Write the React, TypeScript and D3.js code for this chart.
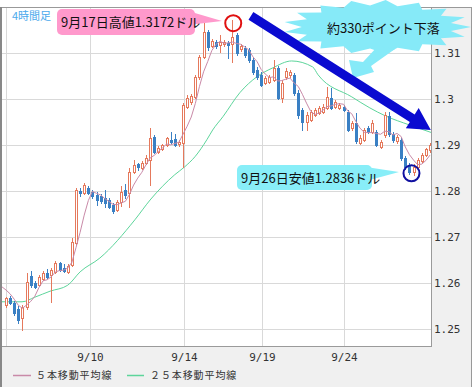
import React from 'react';
import * as d3 from 'd3';

// ---- data (GBP/USD 4-hour candles) ----
const opens = [1.2553,1.2568,1.2557,1.2544,1.2525,1.2549,1.2616,1.2601,1.2596,1.2610,1.2623,1.2618,1.2625,1.2644,1.2633,1.2625,1.2640,1.2688,1.2801,1.2796,1.2807,1.2799,1.2792,1.2790,1.2786,1.2781,1.2770,1.2760,1.2777,1.2803,1.2796,1.2842,1.2860,1.2851,1.2862,1.2868,1.2918,1.2886,1.2892,1.2901,1.2912,1.2914,1.2903,1.2905,1.2983,1.2994,1.3005,1.3049,1.3092,1.3146,1.3116,1.3125,1.3118,1.3120,1.3123,1.3120,1.3140,1.3110,1.3112,1.3107,1.3086,1.3064,1.3053,1.3036,1.3038,1.3042,1.3068,1.3003,1.3049,1.3053,1.3053,1.3014,1.2977,1.2951,1.2955,1.2966,1.2970,1.2973,1.2981,1.3003,1.2983,1.2981,1.2983,1.2973,1.2938,1.2949,1.2905,1.2912,1.2938,1.2929,1.2929,1.2896,1.2923,1.2964,1.2925,1.2910,1.2912,1.2873,1.2857,1.2842,1.2853,1.2866,1.2879,1.2890];
const highs = [1.2570,1.2573,1.2562,1.2551,1.2553,1.2623,1.2627,1.2605,1.2618,1.2627,1.2631,1.2633,1.2649,1.2646,1.2642,1.2642,1.2699,1.2807,1.2807,1.2818,1.2812,1.2803,1.2799,1.2794,1.2803,1.2786,1.2775,1.2781,1.2812,1.2816,1.2851,1.2868,1.2862,1.2866,1.2879,1.2938,1.2923,1.2899,1.2903,1.2918,1.2929,1.2925,1.2912,1.2992,1.3010,1.3012,1.3053,1.3096,1.3166,1.3151,1.3131,1.3129,1.3140,1.3129,1.3127,1.3172,1.3144,1.3120,1.3116,1.3112,1.3090,1.3070,1.3060,1.3051,1.3053,1.3086,1.3072,1.3042,1.3068,1.3064,1.3057,1.3020,1.2981,1.2973,1.2977,1.2981,1.2986,1.2990,1.3027,1.3025,1.2999,1.2992,1.2988,1.2977,1.2953,1.2970,1.2923,1.2938,1.2942,1.2955,1.2933,1.2912,1.2973,1.2973,1.2929,1.2923,1.2916,1.2877,1.2862,1.2860,1.2873,1.2883,1.2894,1.2905];
const lows = [1.2549,1.2555,1.2531,1.2514,1.2499,1.2544,1.2592,1.2590,1.2594,1.2607,1.2612,1.2560,1.2623,1.2627,1.2625,1.2623,1.2638,1.2686,1.2790,1.2794,1.2794,1.2786,1.2770,1.2775,1.2766,1.2764,1.2753,1.2757,1.2768,1.2786,1.2766,1.2840,1.2846,1.2849,1.2860,1.2814,1.2883,1.2883,1.2890,1.2899,1.2905,1.2899,1.2899,1.2853,1.2981,1.2990,1.3003,1.3044,1.3090,1.3107,1.3114,1.3112,1.3103,1.3116,1.3090,1.3081,1.3096,1.3105,1.3092,1.3081,1.3055,1.3044,1.3029,1.3033,1.3036,1.3040,1.3001,1.2994,1.3044,1.3049,1.3010,1.2960,1.2933,1.2933,1.2953,1.2964,1.2968,1.2970,1.2979,1.2979,1.2981,1.2979,1.2975,1.2931,1.2933,1.2905,1.2903,1.2910,1.2927,1.2927,1.2899,1.2894,1.2918,1.2920,1.2907,1.2905,1.2868,1.2849,1.2838,1.2836,1.2849,1.2864,1.2877,1.2886];
const closes = [1.2568,1.2557,1.2536,1.2520,1.2549,1.2603,1.2596,1.2592,1.2614,1.2623,1.2614,1.2629,1.2644,1.2629,1.2627,1.2638,1.2690,1.2803,1.2796,1.2814,1.2796,1.2790,1.2781,1.2779,1.2775,1.2766,1.2757,1.2777,1.2799,1.2792,1.2842,1.2857,1.2853,1.2862,1.2873,1.2916,1.2886,1.2894,1.2901,1.2916,1.2907,1.2901,1.2907,1.2988,1.3003,1.3007,1.3049,1.3092,1.3146,1.3114,1.3127,1.3116,1.3125,1.3125,1.3118,1.3136,1.3101,1.3116,1.3096,1.3086,1.3060,1.3049,1.3031,1.3046,1.3049,1.3068,1.3003,1.3036,1.3062,1.3060,1.3014,1.2966,1.2951,1.2966,1.2973,1.2977,1.2981,1.2983,1.3005,1.2981,1.2994,1.2988,1.2977,1.2933,1.2949,1.2910,1.2916,1.2933,1.2929,1.2949,1.2901,1.2907,1.2966,1.2925,1.2912,1.2918,1.2873,1.2853,1.2842,1.2853,1.2868,1.2879,1.2892,1.2901];
const priorCloses = [1.2603,1.2599,1.2594,1.2586,1.2581];

const ma25Index = [-1.5,3.9,7,10.7,15,18,22.8,31.3,35,41,43.4,45.9,48.8,50.2,52.7,56.8,61,64.8,69.4,74.5,75.8,84,88.4,92.1,98,103.5];
const ma25Values = [1.2560,1.2560,1.2570,1.2583,1.2596,1.2625,1.2655,1.2738,1.2781,1.2836,1.2853,1.2875,1.2912,1.2933,1.2962,1.3014,1.3049,1.3068,1.3083,1.3070,1.3053,1.3005,1.2981,1.2964,1.2944,1.2927];

const xTickIndex = [0, 20.4, 43.3, 62.1, 82];
const xTickLabels = ['', '9/10', '9/14', '9/19', '9/24'];
const yTicks = [1.25, 1.26, 1.27, 1.28, 1.29, 1.3, 1.31];
const yTickLabels = ['1.25', '1.26', '1.27', '1.28', '1.29', '1.3', '1.31'];
const yRange = [1.2464, 1.3198];

const highNote = '9月17日高値1.3172ドル';
const lowNote = '9月26日安値1.2836ドル';
const dropNote = '約330ポイント下落';
const periodLabel = '4時間足';
const legendLabels = ['５本移動平均線', '２５本移動平均線'];
// annotation anchors in data space [index, price]
const highAnchor = [55.2, 1.3165];
const lowAnchor = [98.5, 1.2839];
const arrowFrom = [59.5, 1.3181];
const arrowTo = [103.2, 1.2933];

const COL_UP = '#e5795c';
const COL_DOWN = '#3a80c4';
const COL_MA5 = '#c98aa8';
const COL_MA25 = '#5dd59b';

const plot = { left: 2, right: 432, top: 8, bottom: 346 };

export default function App() {
  const n = closes.length;
  const x = d3.scaleLinear().domain([0, n - 1]).range([6, 430]);
  const y = d3.scaleLinear().domain(yRange).range([plot.bottom, plot.top]);
  const cxOf = (i: number) => Math.round(x(i)) + 0.5;
  const py = (v: number) => Math.round(y(v)) + 0.5;

  const allCloses = [...priorCloses, ...closes];
  const ma5: [number, number][] = [];
  for (let i = -1; i < n; i++) {
    const k = i + priorCloses.length;
    if (k - 4 < 0) continue;
    const m = d3.mean(allCloses.slice(k - 4, k + 1)) as number;
    ma5.push([i, m]);
  }
  const line = d3.line<[number, number]>().x(d => x(d[0])).y(d => y(d[1]));
  const ma5Path = line(ma5) || '';
  const ma25Path = d3.line<[number, number]>().x(d => x(d[0])).y(d => y(d[1])).curve(d3.curveMonotoneX)(ma25Index.map((v, i) => [v, ma25Values[i]] as [number, number])) || '';

  // starburst
  const bcx = 377, bcy = 27, brx = 94, bry = 27, spikes = 17;
  const burst: [number, number][] = [];
  for (let k = 0; k < spikes * 2; k++) {
    const a = (k * Math.PI) / spikes;
    const r = k % 2 === 0 ? 1 : 0.8;
    burst.push([bcx + brx * r * Math.cos(a), bcy + bry * r * Math.sin(a)]);
  }
  const burstPath = 'M' + burst.map(p => p.join(',')).join('L') + 'Z';

  // blue arrow
  const sx = x(arrowFrom[0]), sy = y(arrowFrom[1]);
  const ex = x(arrowTo[0]), ey = y(arrowTo[1]);
  const len = Math.hypot(ex - sx, ey - sy);
  const ux = (ex - sx) / len, uy = (ey - sy) / len;
  const nx = -uy, ny = ux;
  const hw = 4.5, hl = 22, hh = 12;
  const bx = ex - ux * hl, by = ey - uy * hl;
  const arrowPts = [
    [sx + nx * hw, sy + ny * hw], [bx + nx * hw, by + ny * hw], [bx + nx * hh, by + ny * hh], [ex, ey],
    [bx - nx * hh, by - ny * hh], [bx - nx * hw, by - ny * hw], [sx - nx * hw, sy - ny * hw],
  ];
  const arrowPath = 'M' + arrowPts.map(p => p.join(',')).join('L') + 'Z';

  const jp = '"Noto Sans CJK JP", "Noto Sans", sans-serif';
  const mono = '"DejaVu Sans Mono", "Liberation Mono", monospace';

  return (
    <svg width={473} height={387} style={{ position: 'absolute', left: 0, top: 0, background: '#fff' }}>
      <defs>
        <clipPath id="plotclip">
          <rect x={plot.left} y={plot.top} width={plot.right - plot.left} height={plot.bottom - plot.top} />
        </clipPath>
      </defs>
      {/* panels */}
      <rect x={1} y={7} width={471} height={380} fill="#f0f0f0" />
      <rect x={plot.left} y={plot.top} width={plot.right - plot.left} height={plot.bottom - plot.top} fill="#fff" />
      {/* grid */}
      <g stroke="#d9d9d9" strokeWidth={1}>
        {yTicks.map((t, i) => (
          <line key={'gy' + i} x1={plot.left} x2={plot.right} y1={py(t)} y2={py(t)} />
        ))}
        {xTickIndex.map((t, i) => (
          <line key={'gx' + i} x1={cxOf(t)} x2={cxOf(t)} y1={plot.top} y2={plot.bottom} />
        ))}
      </g>
      <g clipPath="url(#plotclip)">
        <path d={ma25Path} fill="none" stroke={COL_MA25} strokeWidth={1} />
        {closes.map((c, i) => {
          const o = opens[i];
          const cx = cxOf(i);
          const up = c >= o;
          const col = up ? COL_UP : COL_DOWN;
          const top = py(Math.max(o, c));
          const bot = py(Math.min(o, c));
          return (
            <g key={'c' + i}>
              <line x1={cx} x2={cx} y1={Math.round(y(highs[i]))} y2={Math.round(y(lows[i])) + 1} stroke={col} strokeWidth={1} />
              {up ? (
                <rect x={cx - 1} y={top} width={2} height={Math.max(bot - top, 1)} fill="#fff" stroke={col} strokeWidth={1} />
              ) : (
                <rect x={cx - 1.5} y={top - 0.5} width={3} height={Math.max(bot - top, 1) + 1} fill={col} />
              )}
            </g>
          );
        })}
        <path d={ma5Path} fill="none" stroke={COL_MA5} strokeWidth={1} />
      </g>
      {/* borders */}
      <line x1={0} x2={472} y1={7.5} y2={7.5} stroke="#999" />
      <line x1={1} x2={1} y1={7} y2={387} stroke="#888" strokeWidth={2} />
      <line x1={471.5} x2={471.5} y1={7} y2={387} stroke="#999" />
      <line x1={plot.right - 0.5} x2={plot.right - 0.5} y1={plot.top} y2={plot.bottom + 1} stroke="#9a9a9a" />
      <line x1={plot.left} x2={plot.right} y1={plot.bottom + 0.5} y2={plot.bottom + 0.5} stroke="#9a9a9a" />
      {/* y axis labels */}
      {yTicks.map((t, i) => (
        <text key={'yl' + i} x={434} y={y(t) + 4} fontFamily={mono} fontSize={11} fill="#333">{yTickLabels[i]}</text>
      ))}
      {/* x axis labels */}
      {xTickIndex.map((t, i) => (
        <text key={'xl' + i} x={cxOf(t)} y={361} textAnchor="middle" fontFamily={mono} fontSize={11} fill="#333">{xTickLabels[i]}</text>
      ))}
      {/* legend */}
      <line x1={13} x2={31} y1={375.5} y2={375.5} stroke={COL_MA5} strokeWidth={1.5} />
      <text x={36} y={379} fontFamily={jp} fontSize={10} letterSpacing={0.9} fill="#333">{legendLabels[0]}</text>
      <line x1={127} x2={144} y1={375.5} y2={375.5} stroke={COL_MA25} strokeWidth={1.5} />
      <text x={150} y={379} fontFamily={jp} fontSize={10} letterSpacing={0.9} fill="#333">{legendLabels[1]}</text>
      {/* period label */}
      <text x={12} y={20} fontFamily={jp} fontSize={11} fill="#4aa9ec">{periodLabel}</text>
      {/* starburst */}
      <path d={burstPath} fill="#86eaf8" />
      <path d="M378,46 L395,49 L371,66 L374,72 L353,78 L349,60 L363,62 Z" fill="#86eaf8" />
      <text x={327} y={33} fontFamily={jp} fontSize={13} fill="#111">{dropNote}</text>
      {/* blue arrow */}
      <path d={arrowPath} fill="#0a0ad0" />
      {/* high callout */}
      <rect x={57} y={9} width={138} height={26} rx={5} fill="#ff99cc" />
      <path d="M188,11 L222,21 L188,25 Z" fill="#ff99cc" />
      <text x={61} y={27} fontFamily={jp} fontSize={13} fill="#111">{highNote}</text>
      <circle cx={x(highAnchor[0])} cy={y(highAnchor[1])} r={8} fill="none" stroke="#e01010" strokeWidth={2} />
      {/* low callout */}
      <rect x={237} y={165} width={135} height={25} rx={5} fill="#88eef8" />
      <path d="M366,167 L399,172 L366,181 Z" fill="#88eef8" />
      <text x={241} y={183} fontFamily={jp} fontSize={13} fill="#111">{lowNote}</text>
      <circle cx={x(lowAnchor[0])} cy={y(lowAnchor[1])} r={8} fill="none" stroke="#1010a0" strokeWidth={2} />
    </svg>
  );
}
